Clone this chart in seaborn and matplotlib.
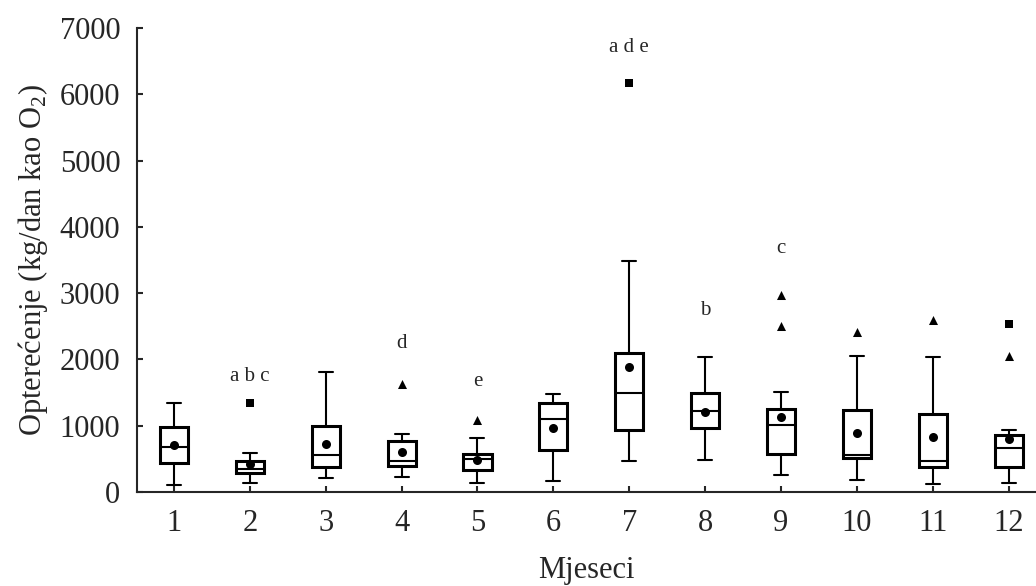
import matplotlib
matplotlib.use("Agg")
import matplotlib.pyplot as plt
import numpy as np
import pandas as pd
import seaborn as sns

# months on the x axis
months = ['1', '2', '3', '4', '5', '6', '7', '8', '9', '10', '11', '12']

# five-number summaries (kg/dan kao O2)
whisker_low = [106, 131, 211, 221, 131, 166, 472, 483, 252, 181, 126, 140]
q1 = [437, 287, 382, 397, 332, 638, 929, 967, 575, 518, 382, 382]
median = [683, 342, 563, 463, 493, 1101, 1487, 1225, 1005, 558, 472, 659]
q3 = [980, 468, 995, 769, 573, 1338, 2096, 1487, 1252, 1237, 1181, 860]
whisker_high = [1338, 593, 1815, 875, 814, 1478, 3481, 2030, 1504, 2056, 2041, 935]
means = [709, 422, 719, 608, 483, 960, 1881, 1208, 1128, 895, 825, 795]

# outliers (triangles) and extremes (squares)
outlier_month = ['4', '5', '9', '9', '10', '11', '12']
outlier_value = [1629, 1086, 2965, 2498, 2408, 2594, 2051]
extreme_month = ['2', '7', '12']
extreme_value = [1338, 6169, 2529]

# significance letters
letter_month = ['2', '4', '5', '7', '8', '9']
letter_text = ['a b c', 'd', 'e', 'a d e', 'b', 'c']
letter_y = [1750, 2243, 1674, 6700, 2740, 3680]

sns.set_style('ticks')
plt.rcParams['font.family'] = ['Liberation Serif', 'DejaVu Serif']
plt.rcParams['mathtext.fontset'] = 'custom'
plt.rcParams['mathtext.rm'] = 'Liberation Serif'

# long table: with whis=(0,100) the five values give exactly the box stats
rows = []
for i, m in enumerate(months):
    for v in (whisker_low[i], q1[i], median[i], q3[i], whisker_high[i]):
        rows.append({'month': m, 'value': v})
df = pd.DataFrame(rows)

fig = plt.figure(figsize=(10.36, 5.86), dpi=100)
ax = fig.add_axes([0.1322, 0.1604, 0.8678, 0.7918])

sns.boxplot(data=df, x='month', y='value', order=months, whis=(0, 100),
            width=0.37, color='white', linecolor='black', linewidth=2.2,
            showfliers=False, ax=ax,
            whiskerprops=dict(linewidth=1.5), capprops=dict(linewidth=1.5),
            medianprops=dict(linewidth=1.5))

sns.stripplot(x=months, y=means, order=months, jitter=False, color='black',
              marker='o', size=6.5, zorder=5, ax=ax)
sns.stripplot(x=outlier_month, y=outlier_value, order=months, jitter=False,
              color='black', marker='^', size=6.5, zorder=5, ax=ax)
sns.stripplot(x=extreme_month, y=extreme_value, order=months, jitter=False,
              color='black', marker='s', size=6, zorder=5, ax=ax)

for m, t, y in zip(letter_month, letter_text, letter_y):
    ax.text(months.index(m), y, t, ha='center', va='center', fontsize=15)

ax.set_xlim(-0.487, 11.36)
ax.set_ylim(0, 7000)
ax.set_yticks(np.arange(0, 7001, 1000))
ax.set_xlabel('Mjeseci', fontsize=22, labelpad=13)
ax.set_ylabel(r'Opterećenje (kg/dan kao O$_{\mathrm{2}}$)', fontsize=22, labelpad=7)

sns.despine(ax=ax, top=True, right=True)
for s in ('left', 'bottom'):
    ax.spines[s].set_linewidth(1.5)
ax.tick_params(direction='in', length=4, width=1.5, labelsize=22, pad=12)

fig.savefig('out.png', dpi=100)
